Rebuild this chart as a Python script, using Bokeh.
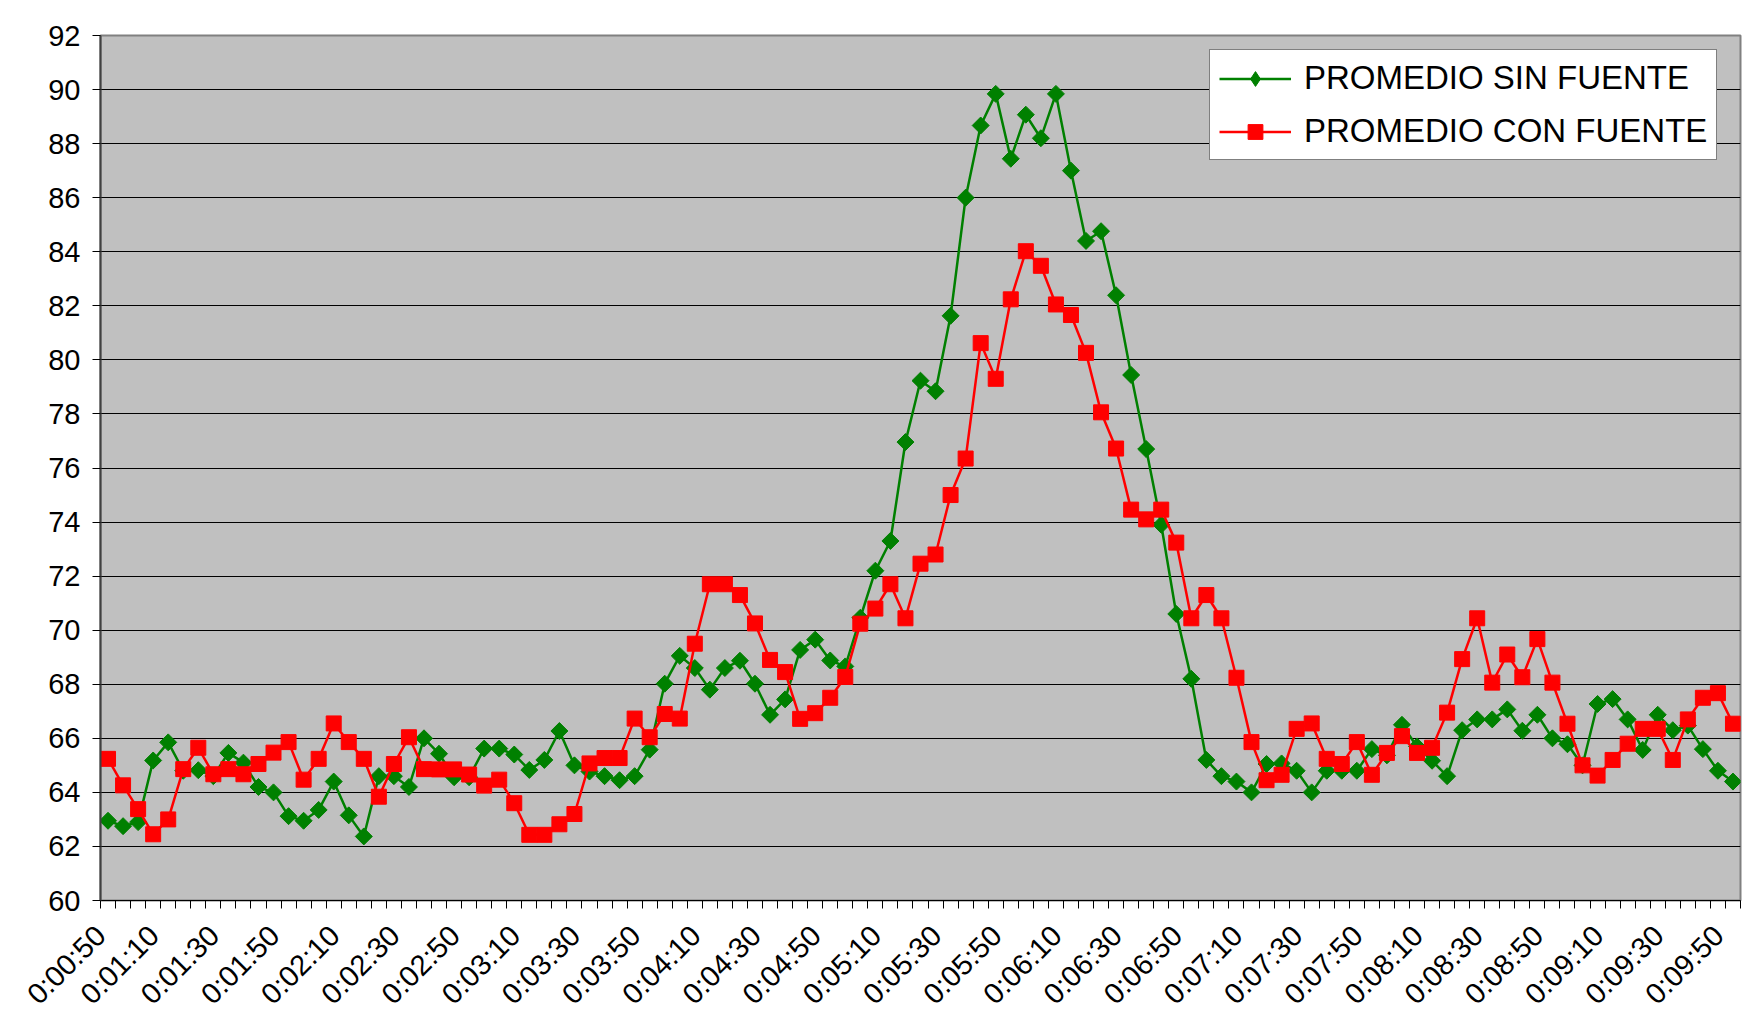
import math
from bokeh.plotting import figure
from bokeh.models import FixedTicker, Legend, LegendItem, Range1d, LinearAxis
from bokeh.embed import file_html
from bokeh.resources import INLINE

# categories: one reading every 5 s, from 0:00:50 to 0:09:50
times = [f"0:{(50 + 5 * k) // 60:02d}:{(50 + 5 * k) % 60:02d}" for k in range(109)]

sin_fuente = [
    62.95, 62.75, 62.9, 65.18, 65.85, 64.8, 64.82, 64.6, 65.46, 65.1,
    64.2, 64.0, 63.12, 62.95, 63.35, 64.4, 63.15, 62.37, 64.6, 64.6,
    64.2, 66.0, 65.43, 64.56, 64.56, 65.62, 65.62, 65.4, 64.83, 65.2,
    66.27, 65.0, 64.77, 64.6, 64.45, 64.6, 65.58, 68.02, 69.05, 68.6,
    67.8, 68.6, 68.87, 68.02, 66.87, 67.44, 69.27, 69.65, 68.88, 68.66,
    70.46, 72.2, 73.3, 76.96, 79.23, 78.84, 81.63, 86.0, 88.67, 89.84,
    87.44, 89.07, 88.2, 89.84, 87.0, 84.4, 84.76, 82.39, 79.44, 76.7,
    73.9, 70.6, 68.2, 65.2, 64.6, 64.4, 64.0, 65.05, 65.07, 64.8,
    64.0, 64.8, 64.8, 64.8, 65.6, 65.37, 66.5, 65.7, 65.17, 64.6,
    66.3, 66.7, 66.7, 67.07, 66.28, 66.87, 66.0, 65.78, 65.0, 67.27,
    67.45, 66.7, 65.57, 66.87, 66.3, 66.47, 65.6, 64.8, 64.4,
]

con_fuente = [
    65.24, 64.26, 63.38, 62.45, 63.0, 64.86, 65.65, 64.67, 64.86, 64.67,
    65.05, 65.47, 65.86, 64.47, 65.24, 66.55, 65.86, 65.24, 63.84, 65.05,
    66.04, 64.86, 64.85, 64.85, 64.66, 64.25, 64.47, 63.6, 62.43, 62.43,
    62.82, 63.2, 65.07, 65.27, 65.27, 66.73, 66.04, 66.9, 66.73, 69.5,
    71.7, 71.7, 71.3, 70.25, 68.9, 68.45, 66.72, 66.93, 67.5, 68.27,
    70.24, 70.8, 71.7, 70.44, 72.46, 72.8, 75.0, 76.35, 80.62, 79.3,
    82.24, 84.02, 83.48, 82.05, 81.66, 80.26, 78.06, 76.72, 74.46, 74.1,
    74.46, 73.24, 70.44, 71.3, 70.44, 68.24, 65.86, 64.45, 64.65, 66.35,
    66.55, 65.24, 65.05, 65.86, 64.65, 65.46, 66.08, 65.46, 65.65, 66.95,
    68.93, 70.44, 68.06, 69.1, 68.26, 69.67, 68.06, 66.54, 65.0, 64.62,
    65.2, 65.8, 66.35, 66.35, 65.2, 66.7, 67.5, 67.67, 66.54,
]

tick_labels = [
    "0:00:50", "0:01:10", "0:01:30", "0:01:50", "0:02:10", "0:02:30", "0:02:50",
    "0:03:10", "0:03:30", "0:03:50", "0:04:10", "0:04:30", "0:04:50", "0:05:10",
    "0:05:30", "0:05:50", "0:06:10", "0:06:30", "0:06:50", "0:07:10", "0:07:30",
    "0:07:50", "0:08:10", "0:08:30", "0:08:50", "0:09:10", "0:09:30", "0:09:50",
]
y_ticks = list(range(60, 93, 2))
series_names = ["PROMEDIO SIN FUENTE", "PROMEDIO CON FUENTE"]

FONT = "Liberation Sans"
TICK_FONT_SIZE = "29px"
x = list(range(len(times)))
x_start, x_end = -0.5, len(times) - 0.5

p = figure(
    width=1762, height=1025, output_backend="svg", toolbar_location=None,
    x_range=Range1d(x_start, x_end), y_range=Range1d(60, 92),
    min_border_left=100, min_border_right=22, min_border_top=35, min_border_bottom=125,
)
p.background_fill_color = "#C0C0C0"
p.border_fill_color = "white"
p.outline_line_color = "#808080"
p.outline_line_width = 2

# y axis
p.yaxis.ticker = FixedTicker(ticks=y_ticks)
p.yaxis.axis_line_color = "#404040"
p.yaxis.axis_line_width = 2
p.yaxis.major_tick_line_color = "black"
p.yaxis.major_tick_out = 8
p.yaxis.major_tick_in = 0
p.yaxis.minor_tick_line_color = None
p.yaxis.major_label_standoff = 12
p.yaxis.major_label_text_font = FONT
p.yaxis.major_label_text_font_size = TICK_FONT_SIZE
p.yaxis.major_label_text_color = "black"

# x axis 1: tick marks between categories
p.xaxis.ticker = FixedTicker(ticks=[], minor_ticks=[k - 0.5 for k in range(len(times) + 1)])
p.xaxis.major_tick_line_color = None
p.xaxis.major_tick_out = 8
p.xaxis.minor_tick_line_color = "black"
p.xaxis.minor_tick_out = 8
p.xaxis.minor_tick_in = 0
p.xaxis.axis_line_color = "black"
p.xaxis.axis_line_width = 1
p.xaxis.major_label_standoff = 0

# x axis 2: rotated labels every 4th category (Excel-style placement, text ends
# just left of the category centre)
label_pos = [max(times.index(t) - 0.95, x_start) for t in tick_labels]
lab_axis = LinearAxis(
    ticker=FixedTicker(ticks=label_pos),
    major_label_overrides={pos: t for pos, t in zip(label_pos, tick_labels)},
    axis_line_color=None, major_tick_line_color=None, minor_tick_line_color=None,
    major_tick_out=0, major_tick_in=0,
    major_label_orientation=math.pi / 4, major_label_standoff=22,
    major_label_text_font=FONT, major_label_text_font_size=TICK_FONT_SIZE,
    major_label_text_color="black",
)
p.add_layout(lab_axis, "below")

p.xgrid.grid_line_color = None
p.ygrid.ticker = FixedTicker(ticks=y_ticks)
p.ygrid.grid_line_color = "black"
p.ygrid.grid_line_width = 1

gl = p.line(x, sin_fuente, line_color="#008000", line_width=2.5)
gs = p.scatter(x, sin_fuente, marker="square", angle=math.pi / 4, size=12,
               fill_color="#008000", line_color="#008000")
rl = p.line(x, con_fuente, line_color="#FF0000", line_width=2.5)
rs = p.scatter(x, con_fuente, marker="square", size=15,
               fill_color="#FF0000", line_color="#FF0000")
# hidden diamond renderer, only so that the legend shows a diamond symbol
gd = p.scatter(x, sin_fuente, marker="diamond", size=16,
               fill_color="#008000", line_color="#008000", visible=False)

legend = Legend(
    items=[LegendItem(label=series_names[0], renderers=[gl, gd]),
           LegendItem(label=series_names[1], renderers=[rl, rs])],
    location=(1109, 740), margin=0, padding=9, spacing=15,
    glyph_width=72, glyph_height=37, label_height=37, label_standoff=13,
    label_text_font=FONT, label_text_font_size="33px", label_text_color="black",
    border_line_color="black", border_line_width=1,
    background_fill_color="white", background_fill_alpha=1.0,
    inactive_fill_alpha=0.0,
)
p.add_layout(legend)

open("out.html", "w").write(file_html(p, INLINE))
